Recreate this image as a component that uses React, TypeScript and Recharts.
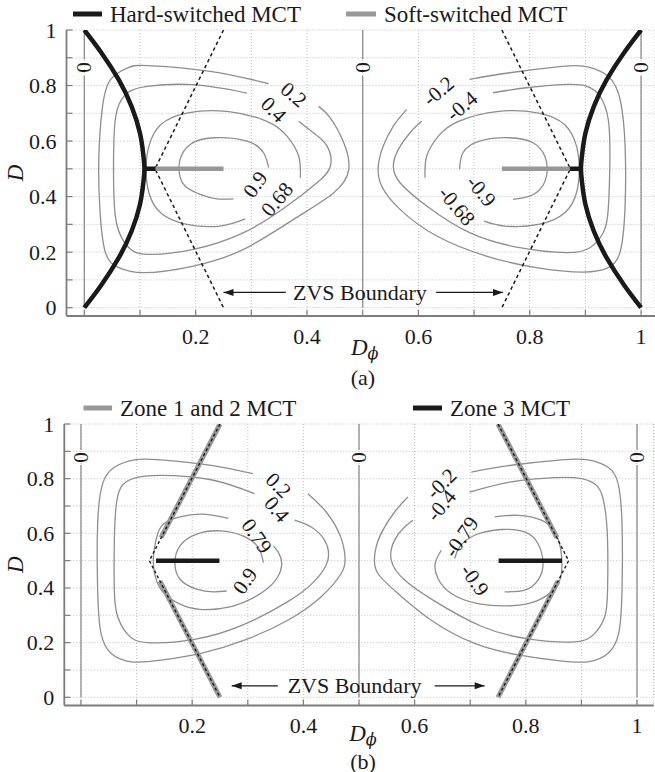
import React from "react";
import {
  ScatterChart,
  Scatter,
  XAxis,
  YAxis,
  CartesianGrid,
  ReferenceDot,
  ReferenceLine,
} from "recharts";

const FONT = "'Liberation Serif', 'Times New Roman', serif";
const INK = "#1a1a1a";
const FRAME = "#7d7d7d";
const CONTOUR = "#8e8e8e";
const BAR_GRAY = "#989898";

// axis ticks (every 0.1), labelled ones
const gridTicks = [0, 0.1, 0.2, 0.3, 0.4, 0.5, 0.6, 0.7, 0.8, 0.9, 1];
const xLabelTicks = [0.2, 0.4, 0.6, 0.8, 1];
const yLabelTicks = [0, 0.2, 0.4, 0.6, 0.8, 1];

// ---------- panel (a) ----------
const a02Left = [[0.331, 0.807], [0.226, 0.851], [0.113, 0.872], [0.077, 0.863], [0.047, 0.821], [0.032, 0.713], [0.026, 0.534], [0.028, 0.354], [0.038, 0.198], [0.062, 0.144], [0.107, 0.126], [0.196, 0.15], [0.286, 0.21], [0.376, 0.318], [0.448, 0.414], [0.475, 0.498], [0.466, 0.594], [0.442, 0.683], [0.421, 0.725]];
const a04Left = [[0.292, 0.773], [0.196, 0.803], [0.113, 0.797], [0.077, 0.773], [0.059, 0.713], [0.053, 0.594], [0.053, 0.414], [0.059, 0.294], [0.077, 0.222], [0.113, 0.192], [0.196, 0.21], [0.286, 0.27], [0.364, 0.366], [0.418, 0.45], [0.442, 0.51], [0.436, 0.582], [0.412, 0.629], [0.385, 0.671]];
const a068Left = [[0.388, 0.468], [0.385, 0.546], [0.364, 0.618], [0.328, 0.671], [0.256, 0.707], [0.184, 0.701], [0.137, 0.659], [0.116, 0.582], [0.111, 0.498], [0.116, 0.414], [0.137, 0.342], [0.184, 0.3], [0.244, 0.294], [0.289, 0.32]];
const a09Left = [[0.331, 0.504], [0.322, 0.558], [0.292, 0.6], [0.232, 0.612], [0.19, 0.588], [0.172, 0.534], [0.171, 0.48], [0.181, 0.438], [0.208, 0.408], [0.238, 0.392], [0.268, 0.392]];
const a02Right = [[0.692, 0.822], [0.764, 0.846], [0.854, 0.868], [0.896, 0.87], [0.932, 0.846], [0.959, 0.774], [0.971, 0.594], [0.971, 0.354], [0.962, 0.198], [0.941, 0.144], [0.896, 0.128], [0.812, 0.144], [0.722, 0.186], [0.633, 0.258], [0.567, 0.354], [0.534, 0.438], [0.528, 0.51], [0.537, 0.582], [0.555, 0.654], [0.579, 0.714]];
const a04Right = [[0.734, 0.774], [0.794, 0.792], [0.866, 0.804], [0.902, 0.798], [0.926, 0.762], [0.941, 0.678], [0.944, 0.534], [0.941, 0.354], [0.932, 0.27], [0.908, 0.216], [0.866, 0.198], [0.782, 0.216], [0.692, 0.27], [0.615, 0.366], [0.567, 0.45], [0.555, 0.51], [0.564, 0.57], [0.585, 0.63], [0.606, 0.672]];
const a068Right = [[0.612, 0.468], [0.615, 0.546], [0.636, 0.618], [0.672, 0.671], [0.744, 0.707], [0.816, 0.701], [0.863, 0.659], [0.884, 0.582], [0.889, 0.498], [0.884, 0.414], [0.863, 0.342], [0.816, 0.3], [0.756, 0.294], [0.718, 0.312]];
const a09Right = [[0.674, 0.498], [0.68, 0.558], [0.71, 0.6], [0.764, 0.612], [0.806, 0.594], [0.827, 0.546], [0.831, 0.486], [0.821, 0.432], [0.8, 0.402], [0.77, 0.39]];
const aHardLeft = [[0, 1], [0.03, 0.92], [0.062, 0.82], [0.085, 0.724], [0.1, 0.628], [0.106, 0.55], [0.108, 0.5], [0.106, 0.45], [0.1, 0.372], [0.085, 0.276], [0.062, 0.18], [0.03, 0.08], [0, 0]];
const aHardRight = [[1, 1], [0.97, 0.92], [0.938, 0.82], [0.915, 0.724], [0.9, 0.628], [0.894, 0.55], [0.892, 0.5], [0.894, 0.45], [0.9, 0.372], [0.915, 0.276], [0.938, 0.18], [0.97, 0.08], [1, 0]];
const aZvsLeft = [[0.25, 1], [0.127, 0.5], [0.25, 0]];
const aZvsRight = [[0.75, 1], [0.873, 0.5], [0.75, 0]];
const aSoftLeft = [[0.128, 0.5], [0.25, 0.5]];
const aSoftRight = [[0.75, 0.5], [0.872, 0.5]];
const aHardBarLeft = [[0.108, 0.5], [0.128, 0.5]];
const aHardBarRight = [[0.872, 0.5], [0.892, 0.5]];
const aZeroLines = [
  [[0, 0], [0, 0.835]], [[0, 0.895], [0, 1]],
  [[0.5, 0], [0.5, 0.835]], [[0.5, 0.895], [0.5, 1]],
  [[1, 0], [1, 0.835]], [[1, 0.895], [1, 1]],
];
const aLabels = [
  { x: 0.376, y: 0.767, text: "0.2", angle: 40 },
  { x: 0.34, y: 0.713, text: "0.4", angle: 45 },
  { x: 0.307, y: 0.444, text: "0.9", angle: -55 },
  { x: 0.346, y: 0.39, text: "0.68", angle: -50 },
  { x: 0.636, y: 0.78, text: "-0.2", angle: -40 },
  { x: 0.678, y: 0.726, text: "-0.4", angle: -40 },
  { x: 0.713, y: 0.42, text: "-0.9", angle: 50 },
  { x: 0.669, y: 0.366, text: "-0.68", angle: 50 },
  { x: 0, y: 0.865, text: "0", angle: 90 },
  { x: 0.5, y: 0.865, text: "0", angle: 90 },
  { x: 1, y: 0.865, text: "0", angle: 90 },
];
const aArrows = [
  { from: 0.362, to: 0.25, y: 0.055 },
  { from: 0.632, to: 0.752, y: 0.055 },
];
const aZvsText = { x: 0.495, y: 0.055 };

// ---------- panel (b) ----------
const b02Left = [[0.309, 0.818], [0.234, 0.849], [0.144, 0.869], [0.096, 0.869], [0.06, 0.842], [0.039, 0.782], [0.03, 0.636], [0.03, 0.392], [0.036, 0.234], [0.054, 0.161], [0.09, 0.13], [0.144, 0.136], [0.216, 0.161], [0.294, 0.209], [0.372, 0.282], [0.432, 0.368], [0.468, 0.453], [0.475, 0.508], [0.467, 0.587], [0.441, 0.678], [0.408, 0.745]];
const b04Left = [[0.312, 0.745], [0.234, 0.796], [0.144, 0.812], [0.096, 0.802], [0.072, 0.769], [0.063, 0.696], [0.06, 0.575], [0.06, 0.392], [0.066, 0.295], [0.084, 0.23], [0.12, 0.2], [0.204, 0.212], [0.288, 0.262], [0.372, 0.35], [0.42, 0.425], [0.444, 0.502], [0.438, 0.575], [0.414, 0.623], [0.384, 0.648]];
const b079Left = [[0.265, 0.655], [0.22, 0.67], [0.178, 0.66], [0.148, 0.633], [0.136, 0.584], [0.13, 0.499], [0.136, 0.426], [0.151, 0.377], [0.178, 0.341], [0.214, 0.322], [0.268, 0.331], [0.316, 0.371], [0.349, 0.426], [0.361, 0.487], [0.355, 0.53], [0.346, 0.554]];
const b09Left = [[0.328, 0.493], [0.319, 0.548], [0.292, 0.59], [0.25, 0.609], [0.208, 0.597], [0.178, 0.554], [0.169, 0.493], [0.178, 0.432], [0.208, 0.396], [0.238, 0.386], [0.262, 0.389]];
const b02Right = [[0.702, 0.824], [0.774, 0.849], [0.864, 0.869], [0.912, 0.869], [0.948, 0.842], [0.966, 0.782], [0.973, 0.636], [0.973, 0.392], [0.967, 0.234], [0.948, 0.161], [0.912, 0.13], [0.858, 0.134], [0.786, 0.155], [0.708, 0.197], [0.63, 0.282], [0.57, 0.38], [0.534, 0.453], [0.528, 0.514], [0.537, 0.587], [0.564, 0.678], [0.588, 0.733]];
const b04Right = [[0.699, 0.751], [0.774, 0.788], [0.852, 0.804], [0.9, 0.8], [0.93, 0.769], [0.942, 0.696], [0.947, 0.575], [0.947, 0.392], [0.942, 0.295], [0.924, 0.234], [0.888, 0.203], [0.804, 0.214], [0.72, 0.26], [0.636, 0.352], [0.582, 0.429], [0.558, 0.502], [0.564, 0.575], [0.582, 0.623], [0.597, 0.648]];
const b079Right = [[0.744, 0.66], [0.786, 0.666], [0.828, 0.648], [0.852, 0.605], [0.863, 0.538], [0.864, 0.453], [0.852, 0.398], [0.822, 0.355], [0.774, 0.335], [0.714, 0.343], [0.666, 0.38], [0.642, 0.435], [0.637, 0.489], [0.648, 0.538]];
const b09Right = [[0.762, 0.386], [0.798, 0.392], [0.822, 0.429], [0.831, 0.489], [0.822, 0.562], [0.798, 0.605], [0.756, 0.614], [0.708, 0.593], [0.681, 0.55], [0.672, 0.508]];
const bZvsLeft = [[0.25, 1], [0.123, 0.5], [0.25, 0]];
const bZvsRight = [[0.75, 1], [0.877, 0.5], [0.75, 0]];
const bZone12 = [
  [[0.25, 1], [0.144, 0.584]], [[0.142, 0.425], [0.25, 0]],
  [[0.75, 1], [0.856, 0.584]], [[0.858, 0.425], [0.75, 0]],
];
const bZone3Left = [[0.135, 0.5], [0.249, 0.5]];
const bZone3Right = [[0.751, 0.5], [0.865, 0.5]];
const bZeroLines = [
  [[0, 0], [0, 0.85]], [[0, 0.905], [0, 1]],
  [[0.5, 0], [0.5, 0.85]], [[0.5, 0.905], [0.5, 1]],
  [[1, 0], [1, 0.85]], [[1, 0.905], [1, 1]],
];
const bLabels = [
  { x: 0.355, y: 0.776, text: "0.2", angle: 45 },
  { x: 0.352, y: 0.688, text: "0.4", angle: 50 },
  { x: 0.316, y: 0.59, text: "0.79", angle: 55 },
  { x: 0.295, y: 0.426, text: "0.9", angle: -55 },
  { x: 0.648, y: 0.782, text: "-0.2", angle: -45 },
  { x: 0.648, y: 0.702, text: "-0.4", angle: -50 },
  { x: 0.684, y: 0.587, text: "-0.79", angle: -55 },
  { x: 0.708, y: 0.429, text: "-0.9", angle: 55 },
  { x: 0, y: 0.877, text: "0", angle: 90 },
  { x: 0.5, y: 0.877, text: "0", angle: 90 },
  { x: 1, y: 0.877, text: "0", angle: 90 },
];
const bArrows = [
  { from: 0.354, to: 0.271, y: 0.042 },
  { from: 0.636, to: 0.726, y: 0.042 },
];
const bZvsText = { x: 0.492, y: 0.042 };

type Pair = number[][];
type Series = { pts: Pair; stroke: string; width: number; dash?: string; curve?: string };
type Lbl = { x: number; y: number; text: string; angle: number };
type Arrow = { from: number; to: number; y: number };

const toPts = (a: Pair) => a.map(([x, y]) => ({ x, y }));
const noDot = () => <g />;

const TICK_FS = 22;

const TickBottom = (p: any) => (
  <g>
    <line x1={p.x} y1={p.y} x2={p.x} y2={p.y - 6} stroke={FRAME} strokeWidth={1.2} />
    {xLabelTicks.includes(p.payload.value) && (
      <text x={p.x} y={p.y + 20} textAnchor="middle" dominantBaseline="central" style={{ fontFamily: FONT }} fontSize={TICK_FS} fill={INK}>
        {String(p.payload.value)}
      </text>
    )}
  </g>
);
const TickTop = (p: any) => <line x1={p.x} y1={p.y} x2={p.x} y2={p.y + 6} stroke={FRAME} strokeWidth={1.2} />;
const TickLeft = (p: any) => (
  <g>
    <line x1={p.x} y1={p.y} x2={p.x + 6} y2={p.y} stroke={FRAME} strokeWidth={1.2} />
    {yLabelTicks.includes(p.payload.value) && (
      <text x={p.x - 10} y={p.y} textAnchor="end" dominantBaseline="central" style={{ fontFamily: FONT }} fontSize={TICK_FS} fill={INK}>
        {String(p.payload.value)}
      </text>
    )}
  </g>
);
const TickRight = (p: any) => <line x1={p.x} y1={p.y} x2={p.x - 6} y2={p.y} stroke={FRAME} strokeWidth={1.2} />;

const makeDphiLabel = (dy: number) => (p: any) => {
  const vb = p.viewBox;
  return (
    <text x={vb.x + vb.width / 2 + 4} y={vb.y + dy} textAnchor="middle" dominantBaseline="central" style={{ fontFamily: FONT }} fontSize={23} fill={INK}>
      <tspan fontStyle="italic">D</tspan>
      <tspan fontStyle="italic" fontSize={16} dy={6} style={{ fontFamily: "'DejaVu Serif', serif" }}>ϕ</tspan>
    </text>
  );
};
const DLabel = (p: any) => {
  const vb = p.viewBox;
  const cy = vb.y + vb.height / 2;
  return (
    <text x={15} y={cy} transform={`rotate(-90 15 ${cy})`} textAnchor="middle" dominantBaseline="central" style={{ fontFamily: FONT }} fontSize={23} fontStyle="italic" fill={INK}>
      D
    </text>
  );
};

const textShape = (t: string, angle: number, size: number) => (p: any) => (
  <text x={p.cx} y={p.cy} transform={`rotate(${angle} ${p.cx} ${p.cy})`} textAnchor="middle" dominantBaseline="central" style={{ fontFamily: FONT }} fontSize={size} fill={INK}>
    {t}
  </text>
);
const headShape = (dir: number) => (p: any) => (
  <polygon points={`${p.cx},${p.cy} ${p.cx - dir * 10},${p.cy - 3.5} ${p.cx - dir * 10},${p.cy + 3.5}`} fill={INK} />
);

type PanelProps = {
  top: number;
  height: number;
  margin: { top: number; right: number; bottom: number; left: number };
  yAxisWidth: number;
  xDomain: number[];
  series: Series[];
  labels: Lbl[];
  arrows: Arrow[];
  zvsText: { x: number; y: number };
  legend: { x1: number; x2: number; color: string; text: string }[];
  legendY: number;
  dphiDy: number;
  caption: string;
  captionY: number;
};

function Panel(props: PanelProps) {
  const { top, height, margin, yAxisWidth, xDomain, series, labels, arrows, zvsText, legend, legendY, dphiDy, caption, captionY } = props;
  const yDomain = [-0.03, 1];
  const axisLine = { stroke: FRAME, strokeWidth: 1.8 };
  return (
    <div style={{ position: "absolute", left: 0, top, width: 655, height }}>
      <ScatterChart width={655} height={height} margin={margin}>
        <CartesianGrid stroke="#bdbdbd" strokeDasharray="1 2" />
        <XAxis type="number" dataKey="x" domain={xDomain} ticks={gridTicks} interval={0} allowDataOverflow tick={TickBottom} tickLine={false} tickSize={0} tickMargin={0} axisLine={axisLine} height={50} label={makeDphiLabel(dphiDy)} />
        <XAxis xAxisId="top" orientation="top" type="number" dataKey="x" domain={xDomain} ticks={gridTicks} interval={0} allowDataOverflow tick={TickTop} tickLine={false} tickSize={0} tickMargin={0} axisLine={axisLine} height={0} />
        <YAxis type="number" dataKey="y" domain={yDomain} ticks={gridTicks} interval={0} allowDataOverflow tick={TickLeft} tickLine={false} tickSize={0} tickMargin={0} axisLine={axisLine} width={yAxisWidth} label={DLabel} />
        <YAxis yAxisId="right" orientation="right" type="number" dataKey="y" domain={yDomain} ticks={gridTicks} interval={0} allowDataOverflow tick={TickRight} tickLine={false} tickSize={0} tickMargin={0} axisLine={axisLine} width={0} />
        {series.map((s, i) => (
          <Scatter
            key={i}
            data={toPts(s.pts)}
            line={{ stroke: s.stroke, strokeWidth: s.width, strokeDasharray: s.dash }}
            lineType="joint"
            lineJointType={(s.curve || "linear") as any}
            shape={noDot}
            legendType="none"
            isAnimationActive={false}
          />
        ))}
        {arrows.map((a, i) => (
          <ReferenceLine key={"s" + i} segment={[{ x: a.from, y: a.y }, { x: a.to, y: a.y }]} stroke={INK} strokeWidth={1.2} />
        ))}
        {arrows.map((a, i) => (
          <ReferenceDot key={"h" + i} x={a.to} y={a.y} r={1} shape={headShape(a.to > a.from ? 1 : -1)} />
        ))}
        <ReferenceDot x={zvsText.x} y={zvsText.y} r={1} shape={textShape("ZVS Boundary", 0, 22)} />
        {labels.map((l, i) => (
          <ReferenceDot key={"l" + i} x={l.x} y={l.y} r={1} shape={textShape(l.text, l.angle, 21)} />
        ))}
      </ScatterChart>
      <svg width={655} height={height} style={{ position: "absolute", left: 0, top: 0, pointerEvents: "none" }}>
        {legend.map((g, i) => (
          <g key={i}>
            <line x1={g.x1} x2={g.x2} y1={legendY} y2={legendY} stroke={g.color} strokeWidth={5} />
            <text x={g.x2 + 8} y={legendY} dominantBaseline="central" style={{ fontFamily: FONT }} fontSize={23} fill={INK}>
              {g.text}
            </text>
          </g>
        ))}
        <text x={363} y={captionY} textAnchor="middle" dominantBaseline="central" style={{ fontFamily: FONT }} fontSize={22} fill={INK}>
          {caption}
        </text>
      </svg>
    </div>
  );
}

const contour = (pts: Pair): Series => ({ pts, stroke: CONTOUR, width: 1.3, curve: "natural" });
const zero = (pts: Pair): Series => ({ pts, stroke: CONTOUR, width: 1.3 });

const seriesA: Series[] = [
  ...[a02Left, a04Left, a068Left, a09Left, a02Right, a04Right, a068Right, a09Right].map(contour),
  ...aZeroLines.map(zero),
  { pts: aZvsLeft, stroke: INK, width: 1.5, dash: "3.5 3" },
  { pts: aZvsRight, stroke: INK, width: 1.5, dash: "3.5 3" },
  { pts: aSoftLeft, stroke: BAR_GRAY, width: 4.5 },
  { pts: aSoftRight, stroke: BAR_GRAY, width: 4.5 },
  { pts: aHardBarLeft, stroke: INK, width: 4.5 },
  { pts: aHardBarRight, stroke: INK, width: 4.5 },
  { pts: aHardLeft, stroke: INK, width: 4.5, curve: "natural" },
  { pts: aHardRight, stroke: INK, width: 4.5, curve: "natural" },
];

const seriesB: Series[] = [
  ...[b02Left, b04Left, b079Left, b09Left, b02Right, b04Right, b079Right, b09Right].map(contour),
  ...bZeroLines.map(zero),
  ...bZone12.map((pts) => ({ pts, stroke: BAR_GRAY, width: 5 })),
  { pts: bZvsLeft, stroke: INK, width: 1.4, dash: "3 2.5" },
  { pts: bZvsRight, stroke: INK, width: 1.4, dash: "3 2.5" },
  { pts: bZone3Left, stroke: INK, width: 4.5 },
  { pts: bZone3Right, stroke: INK, width: 4.5 },
];

export default function App() {
  return (
    <div style={{ position: "absolute", left: 0, top: 0, width: 655, height: 772, background: "#fff", overflow: "hidden", fontFamily: FONT }}>
      <Panel
        top={0}
        height={392}
        margin={{ top: 30, right: 0, bottom: 26, left: 0 }}
        yAxisWidth={66.5}
        xDomain={[-0.032, 1.025]}
        series={seriesA}
        labels={aLabels}
        arrows={aArrows}
        zvsText={aZvsText}
        legend={[
          { x1: 73, x2: 102, color: INK, text: "Hard-switched MCT" },
          { x1: 346, x2: 376, color: BAR_GRAY, text: "Soft-switched MCT" },
        ]}
        legendY={14}
        dphiDy={31}
        caption="(a)"
        captionY={377}
      />
      <Panel
        top={392}
        height={380}
        margin={{ top: 32, right: 1.3, bottom: 16.5, left: 0 }}
        yAxisWidth={64.3}
        xDomain={[-0.03, 1.03]}
        series={seriesB}
        labels={bLabels}
        arrows={bArrows}
        zvsText={bZvsText}
        legend={[
          { x1: 83.5, x2: 112, color: BAR_GRAY, text: "Zone 1 and 2 MCT" },
          { x1: 413, x2: 442, color: INK, text: "Zone 3 MCT" },
        ]}
        legendY={16}
        dphiDy={27}
        caption="(b)"
        captionY={369}
      />
    </div>
  );
}
